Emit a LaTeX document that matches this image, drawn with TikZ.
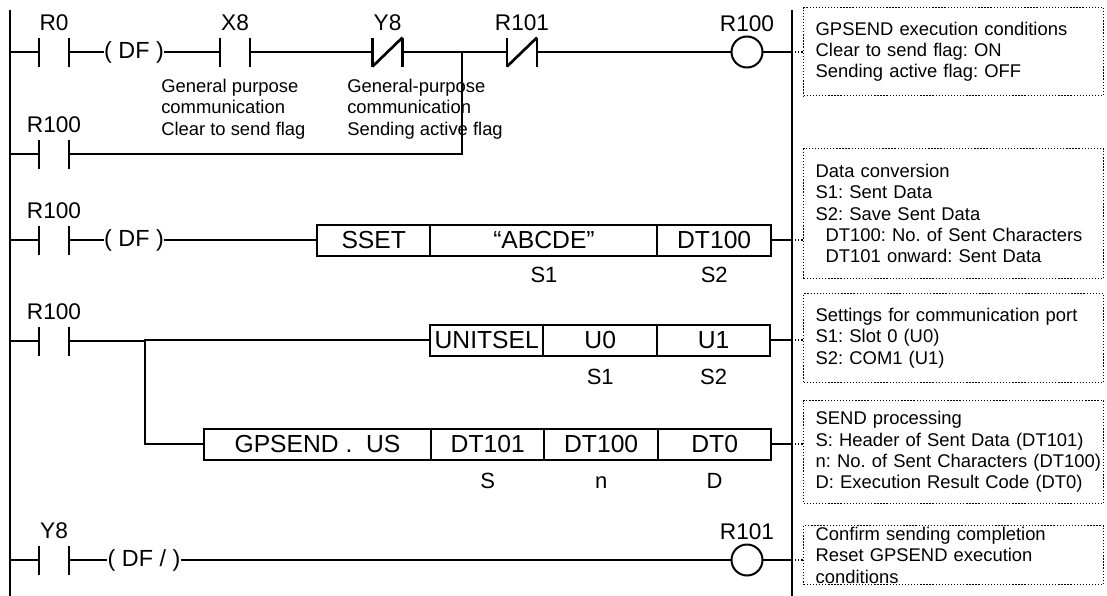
\documentclass[tikz,border=0pt]{standalone}
\usepackage{fontspec}
\setmainfont{Liberation Sans}
\frenchspacing
\usetikzlibrary{positioning}

\tikzset{
	wire/.style={line width=2pt},
	contact/.style={rectangle, minimum width=22.5pt, minimum height=21.75pt, inner sep=0pt, outer sep=0pt},
	coil/.style={circle, draw, line width=1.5pt, minimum size=23.25pt, inner sep=0pt, outer sep=0pt},
	lbl/.style={font=\fontsize{17}{19}\selectfont, inner sep=0pt, label distance=5pt},
	pulse/.style={font=\fontsize{17.5}{20}\selectfont, inner sep=0pt},
	cell/.style={draw, line width=1.5pt, minimum width=85.1pt, minimum height=23.25pt, inner sep=0pt, outer sep=0pt, font=\fontsize{18.5}{20}\selectfont},
	wide/.style={minimum width=170.25pt},
	opnd/.style={font=\fontsize{16.5}{19}\selectfont, inner sep=0pt, text height=11.8pt, text depth=0pt},
	remark/.style={font=\fontsize{13.8}{16}\selectfont, inner sep=0pt, align=left, anchor=north west},
	note/.style={draw, line width=1pt, dash pattern=on 1pt off 1.3pt, anchor=north west, minimum width=225pt,
		text width=222pt, inner xsep=1.5pt, inner ysep=0pt, font=\fontsize{13.8}{16}\selectfont, align=left,
		execute at begin node={\leftskip=7.5pt}},
	noteline/.style={line width=1pt, dash pattern=on 1pt off 1.3pt}
}

\begin{document}
\begin{tikzpicture}[x=0.75pt, y=-0.75pt]
	\useasboundingbox (0,0) rectangle (1107,596);

	% Шины слева и справа
	\coordinate (railL) at (10,10);
	\coordinate (railR) at (792,10);
	\draw[wire] (railL) -- (10,596);
	\draw[wire] (railR) -- (792,596);

	% Цепь 1: условия GPSEND
	\node[contact, label={[lbl]above:R0}] (r0) at (54,52) {};
	\node[pulse] (df1) at (134,52) {( DF )};
	\node[contact, label={[lbl]above:X8}] (x8) at (235,52) {};
	\node[contact, label={[lbl]above:Y8}] (y8) at (387.5,52) {};
	\coordinate (j1) at (462,52);
	\node[contact, label={[lbl]above:R101}] (r101) at (522,52) {};
	\node[coil, label={[lbl, label distance=3.5pt]above:R100}] (c100) at (747,52) {};

	\node[remark] (x8note) at (161,79) {General purpose\\communication\\Clear to send flag};
	\node[remark] (y8note) at (347,79) {General-purpose\\communication\\Sending active flag};

	\draw[wire] (railL |- r0) -- (r0.west) (r0.east) -- (df1.west) (df1.east) -- (x8.west)
		(x8.east) -- (y8.west) (y8.east) -- (r101.west) (r101.east) -- (c100.west) (c100.east) -- (c100 -| railR);

	% Цепь 2: самоподхват R100
	\node[contact, label={[lbl]above:R100}] (r100a) at (54,154) {};
	\draw[wire] (railL |- r100a) -- (r100a.west) (r100a.east) -| (j1);

	% Цепь 3: SSET
	\node[contact, label={[lbl]above:R100}] (r100b) at (54,240) {};
	\node[pulse] (df2) at (134,240) {( DF )};
	\node[cell, anchor=west] (sset) at (317,240) {SSET};
	\node[cell, wide, right=0pt of sset] (abcde) {“ABCDE”};
	\node[cell, right=0pt of abcde] (dt100a) {DT100};
	\node[opnd, below=8pt of abcde] (s1a) {S1};
	\node[opnd, below=8pt of dt100a] (s2a) {S2};
	\draw[wire] (railL |- r100b) -- (r100b.west) (r100b.east) -- (df2.west) (df2.east) -- (sset.west)
		(dt100a.east) -- (dt100a.east -| railR);

	% Цепь 4: UNITSEL и GPSEND
	\node[contact, label={[lbl]above:R100}] (r100c) at (54,341) {};
	\coordinate (br) at (145,341);
	\node[cell, anchor=west] (unitsel) at (430,340) {UNITSEL};
	\node[cell, right=0pt of unitsel] (u0) {U0};
	\node[cell, right=0pt of u0] (u1) {U1};
	\node[opnd, below=10pt of u0] (s1b) {S1};
	\node[opnd, below=10pt of u1] (s2b) {S2};

	\node[cell, wide, anchor=west] (gpsend) at (204,444) {GPSEND .\ \ US};
	\node[cell, right=0pt of gpsend] (dt101) {DT101};
	\node[cell, right=0pt of dt101] (dt100b) {DT100};
	\node[cell, right=0pt of dt100b] (dt0) {DT0};
	\node[opnd, below=10pt of dt101] (sc) {S};
	\node[opnd, below=10pt of dt100b] (nc) {n};
	\node[opnd, below=10pt of dt0] (dc) {D};

	\draw[wire] (railL |- r100c) -- (r100c.west) (r100c.east) -- (br) |- (unitsel.west) (br) |- (gpsend.west)
		(u1.east) -- (u1.east -| railR) (dt0.east) -- (dt0.east -| railR);

	% Цепь 5: сброс
	\node[contact, label={[lbl]above:Y8}] (y8b) at (54,560) {};
	\node[pulse] (df3) at (144,560) {( DF / )};
	\node[coil, label={[lbl, label distance=3.5pt]above:R101}] (c101) at (747,560) {};
	\draw[wire] (railL |- y8b) -- (y8b.west) (y8b.east) -- (df3.west) (df3.east) -- (c101.west)
		(c101.east) -- (c101 -| railR);

	% Пластины контактов
	\foreach \c in {r0, x8, y8, r101, r100a, r100b, r100c, y8b}
		\draw[wire] (\c.north west) -- (\c.south west) (\c.north east) -- (\c.south east);
	\foreach \c in {y8, r101}
		\draw[wire] (\c.south west) -- (\c.north east); % НЗ контакты

	% Комментарии
	\node[note, minimum height=66pt] (n1) at (803,7) {GPSEND execution conditions\\Clear to send flag: ON\\Sending active flag: OFF\par\vspace*{12pt}};
	\node[note, minimum height=97.5pt] (n2) at (803,148) {Data conversion\\S1: Sent Data\\S2: Save Sent Data\\\hspace*{7.5pt}DT100: No. of Sent Characters\\\hspace*{7.5pt}DT101 onward: Sent Data};
	\node[note, minimum height=66.75pt] (n3) at (803,293) {Settings for communication port\\S1: Slot 0 (U0)\\S2: COM1 (U1)};
	\node[note, minimum height=77.25pt] (n4) at (803,400) {SEND processing\\S: Header of Sent Data (DT101)\\n: No. of Sent Characters (DT100)\\D: Execution Result Code (DT0)};
	\node[note, minimum height=44.25pt] (n5) at (803,525) {Confirm sending completion\\Reset GPSEND execution\\conditions};

	\draw[noteline] (c100.east -| railR) -- (n1.west |- c100.east);
	\draw[noteline] (dt100a.east -| railR) -- (n2.west |- dt100a.east);
	\draw[noteline] (u1.east -| railR) -- (n3.west |- u1.east);
	\draw[noteline] (dt0.east -| railR) -- (n4.west |- dt0.east);
	\draw[noteline] (c101.east -| railR) -- (n5.west |- c101.east);
\end{tikzpicture}
\end{document}
